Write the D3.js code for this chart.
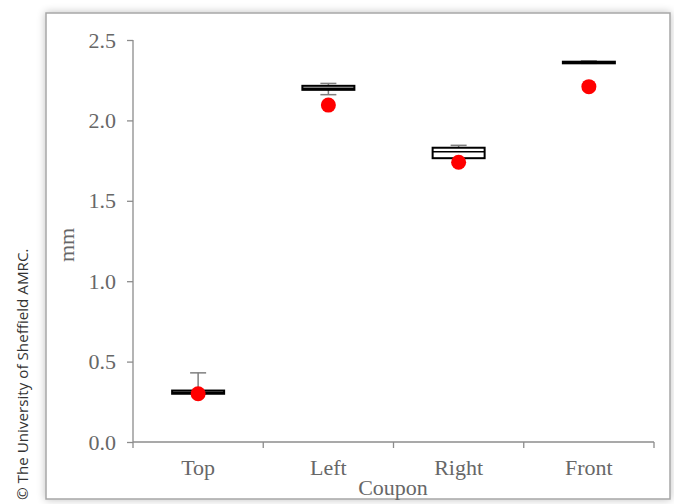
<!DOCTYPE html>
<html>
<head>
<meta charset="utf-8">
<script src="https://cdn.jsdelivr.net/npm/d3@7"></script>
<style>
  body { margin: 0; background: #fff; }
  svg { display: block; }
  .serif { font-family: "Liberation Serif", "Times New Roman", serif; }
</style>
</head>
<body>
<svg id="chart" width="674" height="504"></svg>
<script>
// data
var coupons = ['Top', 'Left', 'Right', 'Front'];
var whiskerLow = [0.30, 2.16, 1.765, 2.355];
var boxLow = [0.30, 2.19, 1.765, 2.355];
var medians = [0.31, 2.20, 1.805, 2.36];
var boxHigh = [0.32, 2.215, 1.83, 2.365];
var whiskerHigh = [0.43, 2.23, 1.845, 2.37];
var dotValues = [0.30, 2.095, 1.74, 2.21];
var yTicks = [0.0, 0.5, 1.0, 1.5, 2.0, 2.5];

var svg = d3.select('#chart');

// frame with soft shadow
var defs = svg.append('defs');
var f = defs.append('filter').attr('id', 'shadow').attr('x', '-5%').attr('y', '-5%').attr('width', '110%').attr('height', '110%');
f.append('feGaussianBlur').attr('in', 'SourceAlpha').attr('stdDeviation', 4);
f.append('feComponentTransfer').append('feFuncA').attr('type', 'linear').attr('slope', 0.25);
var merge = f.append('feMerge');
merge.append('feMergeNode');
merge.append('feMergeNode').attr('in', 'SourceGraphic');

svg.append('rect')
    .attr('x', 46).attr('y', 13)
    .attr('width', 624).attr('height', 486)
    .attr('fill', '#fff')
    .attr('stroke', '#a6a6a6')
    .attr('stroke-width', 1.5)
    .attr('filter', 'url(#shadow)');

// copyright
svg.append('text')
    .attr('transform', 'translate(28,500) rotate(-90)')
    .attr('font-family', '"Open Sans", sans-serif')
    .attr('font-size', 15.2)
    .attr('fill', '#333')
    .text('\u00a9 The University of Sheffield AMRC.');

var x0 = 133, x1 = 654, yTop = 40, yBot = 442;

var xScale = d3.scaleBand().domain(coupons).range([x0, x1]);
var yScale = d3.scaleLinear().domain([0, 2.5]).range([yBot, yTop]);

var axisColor = '#8c8c8c';
var textColor = '#676767';

// y axis
var yAxis = svg.append('g')
    .attr('transform', 'translate(' + x0 + ',0)')
    .call(d3.axisLeft(yScale).tickValues(yTicks).tickSize(6).tickPadding(11).tickFormat(d3.format('.1f')));
yAxis.attr('font-family', null).attr('font-size', null).attr('class', 'serif');
yAxis.select('.domain').attr('stroke', axisColor).attr('stroke-width', 1.3).attr('d', 'M0,' + yTop + 'V' + yBot);
yAxis.selectAll('.tick line').attr('stroke', axisColor).attr('stroke-width', 1.3);
yAxis.selectAll('.tick text')
    .attr('font-size', 22)
    .attr('fill', textColor);

// x axis
var xAxis = svg.append('g')
    .attr('transform', 'translate(0,' + yBot + ')')
    .call(d3.axisBottom(xScale).tickSize(0).tickPadding(17));
xAxis.attr('font-family', null).attr('font-size', null).attr('class', 'serif');
xAxis.select('.domain').attr('stroke', axisColor).attr('stroke-width', 1.3).attr('d', 'M' + x0 + ',0H' + x1);
xAxis.selectAll('.tick text')
    .attr('font-size', 22)
    .attr('fill', textColor);
// category separators
xAxis.selectAll('.sep')
    .data(d3.range(coupons.length + 1))
    .enter().append('line')
    .attr('class', 'sep')
    .attr('x1', function (i) { return x0 + i * xScale.step(); })
    .attr('x2', function (i) { return x0 + i * xScale.step(); })
    .attr('y1', 0).attr('y2', 6)
    .attr('stroke', axisColor).attr('stroke-width', 1.3);

// axis titles
svg.append('text')
    .attr('class', 'serif')
    .attr('transform', 'translate(74,245) rotate(-90)')
    .attr('text-anchor', 'middle')
    .attr('font-size', 22)
    .attr('fill', textColor)
    .text('mm');
svg.append('text')
    .attr('class', 'serif')
    .attr('x', 393).attr('y', 495)
    .attr('text-anchor', 'middle')
    .attr('font-size', 22)
    .attr('fill', textColor)
    .text('Coupon');

// boxes
var boxW = 52;
var boxes = svg.append('g').selectAll('.box')
    .data(coupons)
    .enter().append('g')
    .attr('class', 'box')
    .attr('transform', function (c) { return 'translate(' + (xScale(c) + xScale.bandwidth() / 2) + ',0)'; });

boxes.append('line')
    .attr('y1', function (c, i) { return yScale(whiskerHigh[i]); })
    .attr('y2', function (c, i) { return yScale(whiskerLow[i]); })
    .attr('stroke', '#7f7f7f').attr('stroke-width', 1.5);
[whiskerHigh, whiskerLow].forEach(function (arr) {
    boxes.append('line')
        .attr('x1', -8).attr('x2', 8)
        .attr('y1', function (c, i) { return yScale(arr[i]); })
        .attr('y2', function (c, i) { return yScale(arr[i]); })
        .attr('stroke', '#7f7f7f').attr('stroke-width', 1.5);
});
boxes.append('rect')
    .attr('x', -boxW / 2)
    .attr('y', function (c, i) { return yScale(boxHigh[i]); })
    .attr('width', boxW)
    .attr('height', function (c, i) { return Math.max(0.1, yScale(boxLow[i]) - yScale(boxHigh[i])); })
    .attr('fill', '#fff')
    .attr('stroke', '#000')
    .attr('stroke-width', 2);
boxes.append('line')
    .attr('x1', -boxW / 2).attr('x2', boxW / 2)
    .attr('y1', function (c, i) { return yScale(medians[i]); })
    .attr('y2', function (c, i) { return yScale(medians[i]); })
    .attr('stroke', '#000').attr('stroke-width', 1.5);

// red points
boxes.append('circle')
    .attr('cy', function (c, i) { return yScale(dotValues[i]); })
    .attr('r', 7.5)
    .attr('fill', '#ff0000');
</script>
</body>
</html>
